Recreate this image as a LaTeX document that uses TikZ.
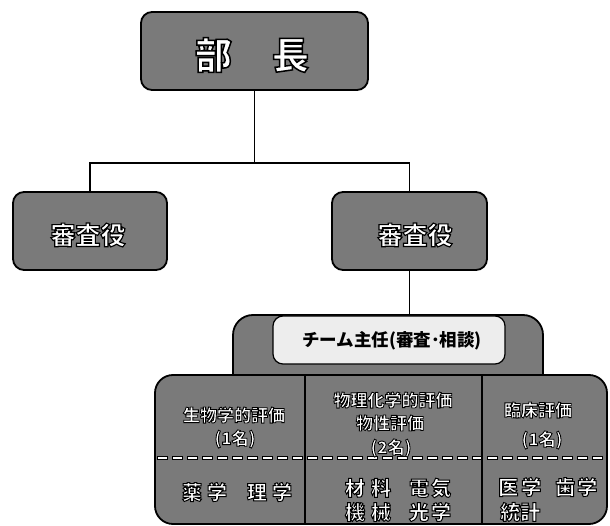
\documentclass[tikz,border=0pt]{standalone}
\usepackage{fontspec}
\newfontfamily\jp{Noto Sans CJK JP}
\IfFontExistsTF{Noto Sans CJK JP Black}
  {\newfontfamily\jphx{Noto Sans CJK JP Black}\newcommand\jph{\jphx}}
  {\newcommand\jph{\jp\bfseries}}
\definecolor{boxgray}{gray}{0.48}
\definecolor{lightbg}{gray}{0.93}
% white text with a black outline (fill + stroke render mode)
\newcommand\olt[2][1]{{\color{white}\special{pdf:literal direct 2 Tr #1 w 0 G}#2\special{pdf:literal direct 0 Tr}}}
\tikzset{
  gbox/.style={draw=black, line width=1.8pt, fill=boxgray, rounded corners=11pt, inner sep=0pt},
  lbl/.style={inner sep=0pt, font=\jp\bfseries},
  conn/.style={draw=black, line width=1.5pt},
}
\begin{document}
\begin{tikzpicture}[x=1pt,y=-1pt]
\useasboundingbox (0,0) rectangle (610,526);
% top boxes
\node[gbox, minimum width=227pt, minimum height=78pt] (bucho) at (254.5,51) {};
\node[gbox, minimum width=154pt, minimum height=78pt] (shl) at (90,231) {};
\node[gbox, minimum width=155pt, minimum height=78pt] (shr) at (409.5,231) {};
% connectors
\draw[conn] (bucho.south) -- ++(0,72) coordinate (j);
\draw[conn] (shl.north) |- (j) -| (shr.north);
% team outer
\draw[line width=1.8pt, fill=boxgray, rounded corners=20pt] (233,378) -- (233,315) -- (543,315) -- (543,378);
% bottom box
\draw[line width=1.8pt, fill=boxgray, rounded corners=18pt] (155,375) rectangle (607,524);
% team inner box
\node[draw=black, line width=1.2pt, fill=lightbg, rounded corners=10pt, minimum width=232pt, minimum height=48pt, inner sep=0pt] (team) at (389,340) {};
\draw[conn] (shr.south) -- (shr.south |- team.north);
% dashed separators
\draw[line width=4pt, dash pattern=on 11pt off 4pt] (157,458) -- (605,458);
\draw[line width=1.6pt, white, dash pattern=on 9pt off 6pt, dash phase=-1pt] (157,458) -- (605,458);
% column dividers
\draw[line width=1.8pt] (305,375) -- (305,524);
\draw[line width=1.8pt] (482,375) -- (482,524);
% texts
\node[lbl, font=\jph\fontsize{37}{40}\selectfont] (buchot) at (252,55) {\olt[1.5]{部\hspace{40pt}長}};
\node[lbl, font=\jph\fontsize{25}{28}\selectfont] (shlt) at (88,235) {\olt[1.15]{審査役}};
\node[lbl, font=\jph\fontsize{25}{28}\selectfont] (shrt) at (415,235) {\olt[1.15]{審査役}};
\node[lbl, font=\jp\bfseries\fontsize{17.5}{20}\selectfont] (teamt) at (392,341) {チーム主任(審査･相談)};
% column 1
\node[lbl, font=\jph\fontsize{17}{20}\selectfont] (c1a) at (234,415) {\olt[0.85]{生物学的評価}};
\node[lbl, font=\jph\fontsize{17}{20}\selectfont] (c1b) at (235,439) {\olt[0.85]{(1名)}};
\node[lbl, font=\jph\fontsize{20}{24}\selectfont] (c1c) at (237,492) {\olt[1]{薬\kern5pt学\kern20pt理\kern5pt学}};
% column 2
\node[lbl, font=\jph\fontsize{17}{20}\selectfont] (c2a) at (393,400) {\olt[0.85]{物理化学的評価}};
\node[lbl, font=\jph\fontsize{17}{20}\selectfont] (c2b) at (390,423) {\olt[0.85]{物性評価}};
\node[lbl, font=\jph\fontsize{17}{20}\selectfont] (c2c) at (391,448) {\olt[0.85]{(2名)}};
\node[lbl, font=\jph\fontsize{20}{24}\selectfont] (c2d) at (398,488) {\olt[1]{材\kern6pt料\kern18pt電\kern2pt気}};
\node[lbl, font=\jph\fontsize{20}{24}\selectfont] (c2e) at (398,512) {\olt[1]{機\kern6pt械\kern18pt光\kern2pt学}};
% column 3
\node[lbl, font=\jph\fontsize{17}{20}\selectfont] (c3a) at (538,410) {\olt[0.85]{臨床評価}};
\node[lbl, font=\jph\fontsize{17}{20}\selectfont] (c3b) at (542,440) {\olt[0.85]{(1名)}};
\node[lbl, anchor=west, font=\jph\fontsize{20}{24}\selectfont] (c3c) at (498,487) {\olt[1]{医\kern3pt学\kern14pt歯\kern2pt学}};
\node[lbl, anchor=west, font=\jph\fontsize{20}{24}\selectfont] (c3d) at (500,512) {\olt[1]{統計}};
\end{tikzpicture}
\end{document}
